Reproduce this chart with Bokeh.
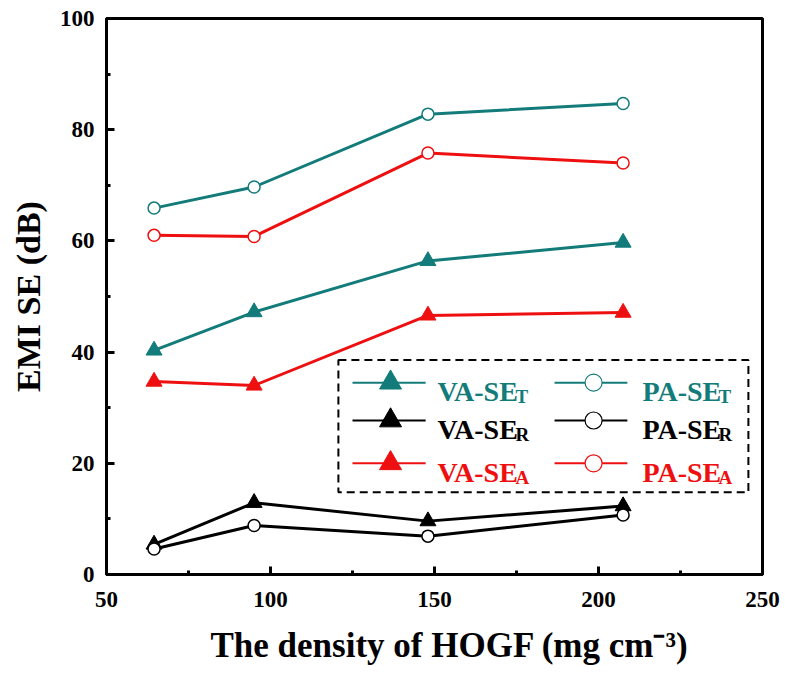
from bokeh.plotting import figure
from bokeh.models import Range1d, Label, BoxAnnotation, FixedTicker, Title
from bokeh.embed import file_html
from bokeh.resources import INLINE

# HOGF density (mg cm^-3)
density = [64.5, 95, 148, 207.5]

# EMI shielding effectiveness (dB)
va_se_t = [40.3, 47.2, 56.4, 59.7]
va_se_r = [5.4, 12.9, 9.6, 12.3]
va_se_a = [34.7, 34.0, 46.6, 47.1]
pa_se_t = [65.9, 69.7, 82.8, 84.7]
pa_se_r = [4.6, 8.8, 6.9, 10.7]
pa_se_a = [61.0, 60.8, 75.8, 74.0]

x_ticks = [50, 100, 150, 200, 250]
y_ticks = [0, 20, 40, 60, 80, 100]

TEAL = "#137c7a"
RED = "#ee1010"
BLACK = "#000000"
FONT = "Liberation Serif"

p = figure(width=785, height=679, output_backend="svg", toolbar_location=None,
           x_range=Range1d(50, 250), y_range=Range1d(0, 100),
           min_border_left=106, min_border_right=23, min_border_top=18,
           min_border_bottom=102)
p.background_fill_color = "white"
p.border_fill_color = "white"
p.grid.visible = False
p.outline_line_color = "black"
p.outline_line_width = 3

p.xaxis.ticker = FixedTicker(ticks=x_ticks, minor_ticks=[75, 125, 175, 225])
p.yaxis.ticker = FixedTicker(ticks=y_ticks, minor_ticks=[10, 30, 50, 70, 90])
for ax in (p.xaxis[0], p.yaxis[0]):
    ax.axis_line_width = 3
    ax.major_tick_in = 8
    ax.major_tick_out = 0
    ax.minor_tick_in = 4
    ax.minor_tick_out = 0
    ax.major_tick_line_width = 3
    ax.minor_tick_line_width = 3
    ax.major_label_text_font = FONT
    ax.major_label_text_font_style = "bold"
    ax.major_label_text_font_size = "23px"
    ax.axis_label_text_font = FONT
    ax.axis_label_text_font_style = "bold"
    ax.axis_label_text_color = "black"
    ax.major_label_text_color = "black"

p.yaxis.axis_label_text_font_size = "34px"
p.xaxis.major_label_standoff = 17
p.yaxis.major_label_standoff = 12
p.yaxis.axis_label = "EMI SE (dB)"
p.yaxis.axis_label_standoff = 10

# x-axis title, placed as a bottom title so it can sit right of centre
p.add_layout(Title(text="The density of HOGF (mg cm\u207b\u00b3)", align="left",
                   offset=104, standoff=29, text_font=FONT,
                   text_font_style="bold", text_font_size="35px",
                   text_color="black"), "below")

# data series
series = [
    (va_se_t, TEAL, "triangle"),
    (va_se_r, BLACK, "triangle"),
    (va_se_a, RED, "triangle"),
    (pa_se_t, TEAL, "circle"),
    (pa_se_r, BLACK, "circle"),
    (pa_se_a, RED, "circle"),
]
for ys, color, marker in series:
    p.line(density, ys, line_color=color, line_width=3)
    if marker == "triangle":
        p.scatter(density, ys, marker="triangle", size=16, fill_color=color,
                  line_color=color, line_width=1)
    else:
        p.scatter(density, ys, marker="circle", size=12, fill_color="white",
                  line_color=color, line_width=1.5)

# legend box
p.add_layout(BoxAnnotation(left=120.7, right=245.7, bottom=14.8, top=38.6,
                           fill_alpha=0, line_color="black", line_alpha=1,
                           line_width=2, line_dash="8 5"))

legend_rows = [34.5, 27.7, 20.0]
legend_items = [
    (0, "VA-SE", "T", TEAL, "triangle", 125.0, 147.3, 136.6, 150.9, 78),
    (1, "VA-SE", "R", BLACK, "triangle", 125.0, 147.3, 136.6, 150.9, 78),
    (2, "VA-SE", "A", RED, "triangle", 125.0, 147.3, 136.6, 150.9, 78),
    (0, "PA-SE", "T", TEAL, "circle", 186.6, 208.8, 198.5, 213.4, 76),
    (1, "PA-SE", "R", BLACK, "circle", 186.6, 208.8, 198.5, 213.4, 76),
    (2, "PA-SE", "A", RED, "circle", 186.6, 208.8, 198.5, 213.4, 76),
]
for row, main, sub, color, marker, x0, x1, xm, xt, w in legend_items:
    yy = legend_rows[row]
    p.line([x0, x1], [yy, yy], line_color=color, line_width=2)
    if marker == "triangle":
        p.scatter([xm], [yy], marker="triangle", size=22, fill_color=color,
                  line_color=color)
    else:
        p.scatter([xm], [yy], marker="circle", size=17, fill_color="white",
                  line_color=color, line_width=1.2)
    p.add_layout(Label(x=xt, y=yy, text=main, text_font=FONT,
                       text_font_style="bold", text_font_size="28px",
                       text_color=color, text_baseline="alphabetic",
                       y_offset=-9))
    p.add_layout(Label(x=xt, y=yy, text=sub, text_font=FONT,
                       text_font_style="bold", text_font_size="19px",
                       text_color=color, text_baseline="alphabetic",
                       x_offset=w, y_offset=-14))

open("out.html", "w").write(file_html(p, INLINE))
